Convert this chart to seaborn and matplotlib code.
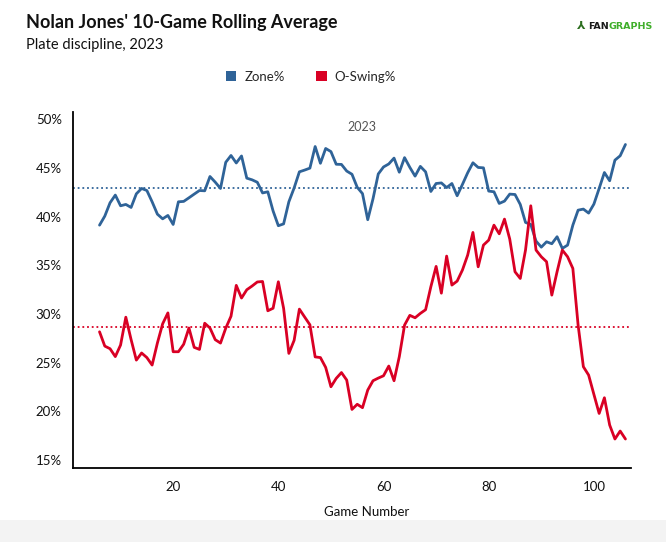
import numpy as np
import pandas as pd
import matplotlib
matplotlib.use("Agg")
import matplotlib.pyplot as plt
from matplotlib.patches import Patch, Rectangle
import seaborn as sns

# ---------------- data ----------------
games = list(range(6, 107))
zone_pct = [
    39.14, 40.07, 41.44, 42.23, 41.13, 41.27, 40.96, 42.36, 42.91, 42.70,
    41.54, 40.27, 39.79, 40.14, 39.21, 41.54, 41.58, 41.95, 42.33, 42.70,
    42.67, 44.14, 43.56, 42.91, 45.60, 46.30, 45.53, 46.25, 43.97, 43.80,
    43.55, 42.45, 42.57, 40.60, 39.08, 39.27, 41.54, 42.96, 44.62, 44.80,
    45.00, 47.22, 45.50, 47.02, 46.70, 45.40, 45.38, 44.70, 44.37, 43.03,
    42.38, 39.70, 41.85, 44.40, 45.12, 45.43, 46.03, 44.58, 46.08, 45.08,
    44.18, 45.18, 44.62, 42.60, 43.42, 43.48, 43.00, 43.42, 42.16, 43.32,
    44.52, 45.55, 45.07, 45.03, 42.64, 42.57, 41.37, 41.61, 42.33, 42.29,
    41.27, 39.42, 39.21, 37.50, 36.88, 37.43, 37.23, 37.95, 36.75, 37.09,
    39.14, 40.68, 40.79, 40.38, 41.30, 42.91, 44.55, 43.70, 45.82, 46.27,
    47.43,
]
oswing_pct = [
    28.18, 26.71, 26.44, 25.63, 26.82, 29.68, 27.38, 25.27, 26.00, 25.53,
    24.76, 27.02, 29.00, 30.12, 26.13, 26.13, 26.90, 28.57, 26.58, 26.37,
    29.06, 28.57, 27.37, 27.02, 28.55, 29.78, 32.95, 31.65, 32.50, 32.88,
    33.30, 33.35, 30.34, 30.60, 33.32, 30.60, 25.96, 27.30, 30.51, 29.70,
    28.90, 25.60, 25.53, 24.52, 22.53, 23.39, 23.99, 23.22, 20.20, 20.73,
    20.38, 22.19, 23.15, 23.42, 23.66, 24.66, 23.15, 25.62, 28.87, 29.87,
    29.62, 30.07, 30.45, 32.81, 34.90, 32.15, 35.96, 32.98, 33.39, 34.52,
    36.06, 38.39, 34.86, 37.09, 37.60, 39.14, 38.25, 39.76, 37.71, 34.35,
    33.66, 36.58, 41.13, 36.58, 35.89, 35.38, 31.95, 34.35, 36.58, 35.89,
    34.69, 28.87, 24.59, 23.73, 21.75, 19.79, 21.40, 18.60, 17.16, 17.98,
    17.16,
]
zone_avg = 43.0
oswing_avg = 28.7
series_names = ["Zone%", "O-Swing%"]
y_ticks = [15, 20, 25, 30, 35, 40, 45, 50]
x_ticks = [20, 40, 60, 80, 100]

BLUE = "#2f6398"
RED = "#d90024"

df = pd.DataFrame({
    "game": games * 2,
    "value": zone_pct + oswing_pct,
    "metric": [series_names[0]] * len(games) + [series_names[1]] * len(games),
})

sns.set_theme(style="white")
plt.rcParams["font.family"] = ["Lato", "DejaVu Sans"]

fig = plt.figure(figsize=(6.66, 5.42), dpi=100)
fig.patch.set_facecolor("white")
fig.patches.append(Rectangle((0, 0), 1, 22 / 542, transform=fig.transFigure,
                             facecolor="#f3f3f3", edgecolor="none", zorder=-5))

ax = fig.add_axes([72.5 / 666, 1 - 468.3 / 542, (630.7 - 72.5) / 666, (468.3 - 111.7) / 542])

sns.lineplot(data=df, x="game", y="value", hue="metric",
             palette={series_names[0]: BLUE, series_names[1]: RED},
             linewidth=2.0, legend=False, ax=ax, zorder=3)

ax.axhline(zone_avg, color=BLUE, lw=1.3, ls=(0, (1, 1.6)), zorder=2)
ax.axhline(oswing_avg, color=RED, lw=1.3, ls=(0, (1, 1.6)), zorder=2)

ax.set_xlim(0.86, 107.0)
ax.set_ylim(14.15, 50.8)
ax.set_xticks(x_ticks)
ax.set_yticks(y_ticks)
ax.set_yticklabels([f"{t}%" for t in y_ticks])
ax.set_xlabel("")
ax.set_ylabel("")

for s in ["top", "right"]:
    ax.spines[s].set_visible(False)
for s in ["left", "bottom"]:
    ax.spines[s].set_color("black")
    ax.spines[s].set_linewidth(1.3)

ax.tick_params(axis="both", which="major", direction="out", length=3,
               width=0.8, color="#777777", labelsize=9.5, labelcolor="#111111")
ax.tick_params(axis="x", pad=6.3)
ax.tick_params(axis="y", pad=4.7)
ax.grid(False)

ax.text(55.9, 49.2, "2023", ha="center", va="center", fontsize=9,
        color="#555555")

# titles
fig.text(26 / 666, 1 - 28 / 542, "Nolan Jones' 10-Game Rolling Average",
         fontsize=13, fontweight="bold", ha="left", va="baseline", color="#111111")
fig.text(26 / 666, 1 - 49 / 542, "Plate discipline, 2023",
         fontsize=10.5, ha="left", va="baseline", color="#111111")

# logo
t_fan = fig.text(588 / 666, 1 - 29 / 542, "FAN", fontsize=6.8, fontweight="bold",
                 ha="left", va="baseline", color="#1a1a1a", family=["DejaVu Sans"])
ax.annotate("GRAPHS", xy=(1, 0), xycoords=t_fan, ha="left", va="bottom",
            fontsize=6.8, fontweight="bold", color="#3fae2a",
            family=["DejaVu Sans"], annotation_clip=False)
fig.text(581 / 666, 1 - 29 / 542, "⅄", fontsize=8, color="#2c6e1f",
         fontweight="bold", ha="center", va="baseline", family=["DejaVu Sans"])

# legend
handles = [Patch(facecolor=BLUE, edgecolor="none", label=series_names[0]),
           Patch(facecolor=RED, edgecolor="none", label=series_names[1])]
fig.legend(handles=handles, loc="center", bbox_to_anchor=(311 / 666, 1 - 77 / 542),
           ncol=2, frameon=False, fontsize=9.5, handlelength=0.8, handleheight=0.8,
           handletextpad=0.6, columnspacing=2.4)

fig.text(367 / 666, 1 - 512 / 542, "Game Number", ha="center", va="center",
         fontsize=9.5, color="#111111")

fig.savefig("out.png", dpi=100, facecolor="white")
